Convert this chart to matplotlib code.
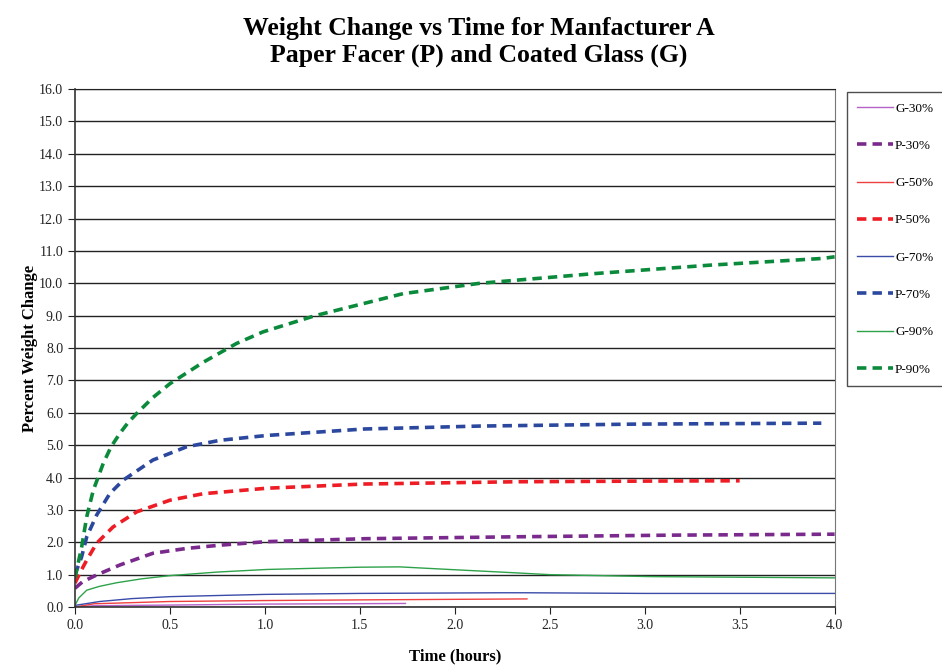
import matplotlib
matplotlib.use("Agg")
import matplotlib.pyplot as plt

# Paper facer (dashed) series
p30_t = [0.0, 0.04, 0.114, 0.237, 0.41, 0.588, 0.763, 1.01, 1.525, 2.33, 3.14, 4.0]
p30_y = [0.58, 0.78, 0.99, 1.30, 1.66, 1.81, 1.91, 2.02, 2.11, 2.17, 2.22, 2.25]

p50_t = [0.0, 0.03, 0.062, 0.114, 0.2, 0.325, 0.5, 0.675, 1.01, 1.525, 2.33, 3.0, 3.5]
p50_y = [0.74, 1.10, 1.45, 1.97, 2.47, 2.94, 3.30, 3.50, 3.67, 3.80, 3.87, 3.89, 3.90]

p70_t = [0.0, 0.035, 0.062, 0.114, 0.184, 0.254, 0.41, 0.588, 0.763, 1.01, 1.525, 2.13, 2.94, 3.93]
p70_y = [1.0, 1.55, 2.17, 2.84, 3.51, 3.92, 4.54, 4.95, 5.15, 5.30, 5.50, 5.59, 5.65, 5.68]

p90_t = [0.0, 0.035, 0.062, 0.096, 0.149, 0.19, 0.237, 0.28, 0.325, 0.41, 0.5, 0.675, 0.85, 0.99,
         1.264, 1.727, 2.13, 2.735, 3.34, 3.94, 4.0]
p90_y = [0.9, 1.85, 2.79, 3.60, 4.44, 4.95, 5.37, 5.70, 5.98, 6.47, 6.90, 7.56, 8.14, 8.50,
         9.00, 9.68, 10.0, 10.30, 10.56, 10.77, 10.82]

# Coated glass (solid) series
g30_t = [0.0, 0.1, 0.5, 1.0, 1.74]
g30_y = [0.0, 0.04, 0.06, 0.09, 0.11]

g50_t = [0.0, 0.1, 0.5, 1.0, 1.5, 2.38]
g50_y = [0.0, 0.10, 0.17, 0.20, 0.22, 0.25]

g70_t = [0.0, 0.13, 0.3, 0.5, 1.0, 1.5, 2.24, 2.37, 3.0, 4.0]
g70_y = [0.05, 0.17, 0.26, 0.32, 0.39, 0.42, 0.44, 0.44, 0.42, 0.42]

g90_t = [0.0, 0.02, 0.062, 0.13, 0.22, 0.35, 0.5, 0.75, 1.01, 1.5, 1.71, 1.97, 2.24, 2.5, 3.03, 4.0]
g90_y = [0.05, 0.28, 0.52, 0.64, 0.75, 0.87, 0.97, 1.08, 1.16, 1.23, 1.24, 1.16, 1.08, 1.0, 0.94, 0.90]

series = [
    ("G-30%", g30_t, g30_y, "#B462C8", "solid"),
    ("P-30%", p30_t, p30_y, "#7A2A8C", "dash"),
    ("G-50%", g50_t, g50_y, "#EE4040", "solid"),
    ("P-50%", p50_t, p50_y, "#EE1C25", "dash"),
    ("G-70%", g70_t, g70_y, "#3A4BA8", "solid"),
    ("P-70%", p70_t, p70_y, "#2B489E", "dash"),
    ("G-90%", g90_t, g90_y, "#2EA24A", "solid"),
    ("P-90%", p90_t, p90_y, "#0B8A3C", "dash"),
]

plt.rcParams["font.family"] = ["Liberation Serif", "DejaVu Serif"]

fig = plt.figure(figsize=(9.42, 6.65), dpi=100)
ax = fig.add_axes([0.0796, 0.0872, 0.8064, 0.7788])

for label, t, y, color, style in series:
    if style == "dash":
        ax.plot(t, y, color=color, linewidth=2.6, dashes=(2.6, 1.7), label=label)
    else:
        ax.plot(t, y, color=color, linewidth=1.0, label=label)

ax.set_xlim(0, 4)
ax.set_ylim(0, 16)
ax.set_xticks([0, 0.5, 1, 1.5, 2, 2.5, 3, 3.5, 4])
ax.set_yticks(range(0, 17))
ax.xaxis.set_major_formatter(matplotlib.ticker.FormatStrFormatter("%.1f"))
ax.yaxis.set_major_formatter(matplotlib.ticker.FormatStrFormatter("%.1f"))
ax.tick_params(labelsize=10, direction="out", length=5, colors="#222222")

# black horizontal gridlines only
ax.grid(True, axis="y", color="#222222", linewidth=1.0)
ax.grid(False, axis="x")
ax.set_axisbelow(True)
for side in ["left", "bottom"]:
    ax.spines[side].set_color("#333333")
    ax.spines[side].set_linewidth(1.2)
ax.spines["right"].set_color("#777777")
ax.spines["top"].set_color("#222222")

ax.set_xlabel("Time (hours)", fontsize=12, fontweight="bold", labelpad=12)
ax.set_ylabel("Percent Weight Change", fontsize=12, fontweight="bold", labelpad=1)

fig.suptitle("Weight Change vs Time for Manfacturer A\nPaper Facer (P) and Coated Glass (G)",
             fontsize=18.5, fontweight="bold", y=0.975, x=0.508, linespacing=1.2)

leg = fig.legend(loc="upper left", bbox_to_anchor=(0.899, 0.862), fontsize=9.5,
                 labelspacing=1.9, handlelength=2.7, handletextpad=0.15,
                 borderpad=0.8, borderaxespad=0.0, fancybox=False, frameon=True,
                 edgecolor="#222222")
leg.get_frame().set_linewidth(1.0)

fig.savefig("out.png", dpi=100)
